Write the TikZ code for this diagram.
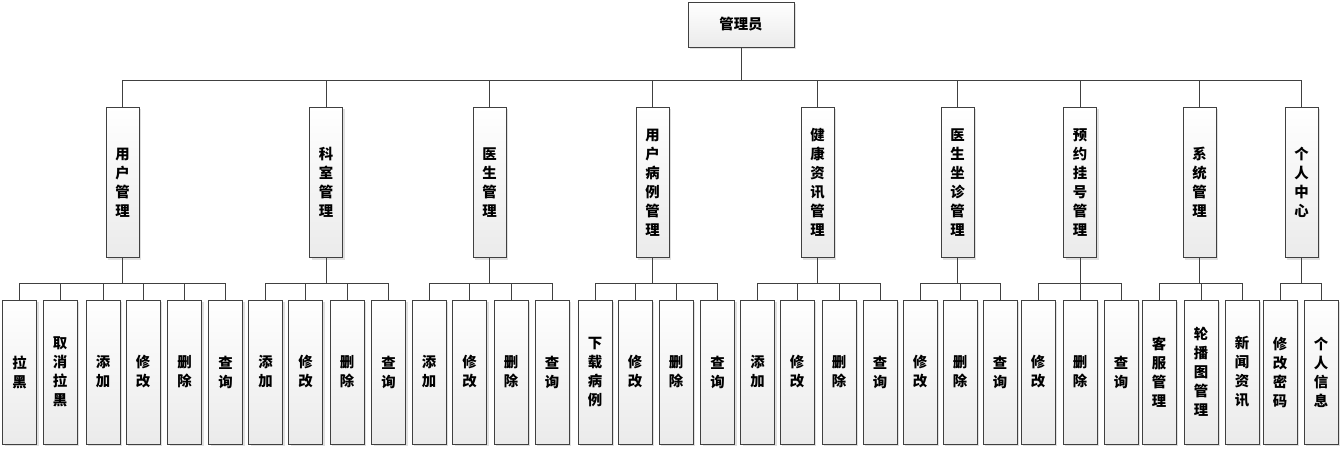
\documentclass[tikz,border=0pt]{standalone}
\usepackage{fontspec}
\newfontfamily\cjk{Noto Sans CJK SC}
\usetikzlibrary{shadows}
\tikzset{
  box/.style={draw=black!75, line width=0.6pt, top color=white, bottom color=black!8,
    drop shadow={shadow xshift=1.5pt, shadow yshift=-1.5pt, fill=black!12, opacity=1},
    inner sep=0pt, align=center, font=\cjk\bfseries\fontsize{10.8}{14.25}\selectfont},
  mod/.style={box, minimum width=24.75pt, minimum height=113pt},
  op/.style={box, minimum width=25.5pt, minimum height=108pt},
  link/.style={draw=black!75, line width=0.6pt}
}
\begin{document}
\begin{tikzpicture}[x=0.75pt, y=-0.75pt]
            \useasboundingbox (0,0) rectangle (1344,450);
            %管理员 -> 9 个模块 -> 各自的操作
            \node[box, minimum width=79.5pt, minimum height=33.75pt] (admin) at (741,24.5) {管理员};

            \node[mod] (m1) at (122.5,182.5) {用\\户\\管\\理};
            \node[mod] (m2) at (326,182.5) {科\\室\\管\\理};
            \node[mod] (m3) at (489.5,182.5) {医\\生\\管\\理};
            \node[mod] (m4) at (652.5,182.5) {用\\户\\病\\例\\管\\理};
            \node[mod] (m5) at (817.5,182.5) {健\\康\\资\\讯\\管\\理};
            \node[mod] (m6) at (957.5,182.5) {医\\生\\坐\\诊\\管\\理};
            \node[mod] (m7) at (1080,182.5) {预\\约\\挂\\号\\管\\理};
            \node[mod] (m8) at (1199.5,182.5) {系\\统\\管\\理};
            \node[mod] (m9) at (1301.5,182.5) {个\\人\\中\\心};

            \node[op] (a1) at (19.5,372) {拉\\黑};
            \node[op] (a2) at (60,372) {取\\消\\拉\\黑};
            \node[op] (a3) at (103,372) {添\\加};
            \node[op] (a4) at (143,372) {修\\改};
            \node[op] (a5) at (184.5,372) {删\\除};
            \node[op] (a6) at (225.5,372) {查\\询};

            \node[op] (b1) at (265.5,372) {添\\加};
            \node[op] (b2) at (305.5,372) {修\\改};
            \node[op] (b3) at (347,372) {删\\除};
            \node[op] (b4) at (388.5,372) {查\\询};

            \node[op] (c1) at (429,372) {添\\加};
            \node[op] (c2) at (469.5,372) {修\\改};
            \node[op] (c3) at (511,372) {删\\除};
            \node[op] (c4) at (552,372) {查\\询};

            \node[op] (d1) at (595,372) {下\\载\\病\\例};
            \node[op] (d2) at (635,372) {修\\改};
            \node[op] (d3) at (676,372) {删\\除};
            \node[op] (d4) at (717.5,372) {查\\询};

            \node[op] (e1) at (757.5,372) {添\\加};
            \node[op] (e2) at (797,372) {修\\改};
            \node[op] (e3) at (839,372) {删\\除};
            \node[op] (e4) at (880,372) {查\\询};

            \node[op] (f1) at (920,372) {修\\改};
            \node[op] (f2) at (960,372) {删\\除};
            \node[op] (f3) at (1000,372) {查\\询};

            \node[op] (g1) at (1038,372) {修\\改};
            \node[op] (g2) at (1080,372) {删\\除};
            \node[op] (g3) at (1121,372) {查\\询};

            \node[op] (h1) at (1159,372) {客\\服\\管\\理};
            \node[op] (h2) at (1201,372) {轮\\播\\图\\管\\理};
            \node[op] (h3) at (1242,372) {新\\闻\\资\\讯};

            \node[op] (i1) at (1280,372) {修\\改\\密\\码};
            \node[op] (i2) at (1321,372) {个\\人\\信\\息};

            \draw[link] (admin.south) -- ++(0,33) -| (m1.north);
            \draw[link] (admin.south) -- ++(0,33) -| (m2.north);
            \draw[link] (admin.south) -- ++(0,33) -| (m3.north);
            \draw[link] (admin.south) -- ++(0,33) -| (m4.north);
            \draw[link] (admin.south) -- ++(0,33) -| (m5.north);
            \draw[link] (admin.south) -- ++(0,33) -| (m6.north);
            \draw[link] (admin.south) -- ++(0,33) -| (m7.north);
            \draw[link] (admin.south) -- ++(0,33) -| (m8.north);
            \draw[link] (admin.south) -- ++(0,33) -| (m9.north);

            \draw[link] (m1.south) -- ++(0,25) -| (a1.north);
            \draw[link] (m1.south) -- ++(0,25) -| (a2.north);
            \draw[link] (m1.south) -- ++(0,25) -| (a3.north);
            \draw[link] (m1.south) -- ++(0,25) -| (a4.north);
            \draw[link] (m1.south) -- ++(0,25) -| (a5.north);
            \draw[link] (m1.south) -- ++(0,25) -| (a6.north);

            \draw[link] (m2.south) -- ++(0,25) -| (b1.north);
            \draw[link] (m2.south) -- ++(0,25) -| (b2.north);
            \draw[link] (m2.south) -- ++(0,25) -| (b3.north);
            \draw[link] (m2.south) -- ++(0,25) -| (b4.north);

            \draw[link] (m3.south) -- ++(0,25) -| (c1.north);
            \draw[link] (m3.south) -- ++(0,25) -| (c2.north);
            \draw[link] (m3.south) -- ++(0,25) -| (c3.north);
            \draw[link] (m3.south) -- ++(0,25) -| (c4.north);

            \draw[link] (m4.south) -- ++(0,25) -| (d1.north);
            \draw[link] (m4.south) -- ++(0,25) -| (d2.north);
            \draw[link] (m4.south) -- ++(0,25) -| (d3.north);
            \draw[link] (m4.south) -- ++(0,25) -| (d4.north);

            \draw[link] (m5.south) -- ++(0,25) -| (e1.north);
            \draw[link] (m5.south) -- ++(0,25) -| (e2.north);
            \draw[link] (m5.south) -- ++(0,25) -| (e3.north);
            \draw[link] (m5.south) -- ++(0,25) -| (e4.north);

            \draw[link] (m6.south) -- ++(0,25) -| (f1.north);
            \draw[link] (m6.south) -- ++(0,25) -| (f2.north);
            \draw[link] (m6.south) -- ++(0,25) -| (f3.north);

            \draw[link] (m7.south) -- ++(0,25) -| (g1.north);
            \draw[link] (m7.south) -- ++(0,25) -| (g2.north);
            \draw[link] (m7.south) -- ++(0,25) -| (g3.north);

            \draw[link] (m8.south) -- ++(0,25) -| (h1.north);
            \draw[link] (m8.south) -- ++(0,25) -| (h2.north);
            \draw[link] (m8.south) -- ++(0,25) -| (h3.north);

            \draw[link] (m9.south) -- ++(0,25) -| (i1.north);
            \draw[link] (m9.south) -- ++(0,25) -| (i2.north);

        \end{tikzpicture}
\end{document}
